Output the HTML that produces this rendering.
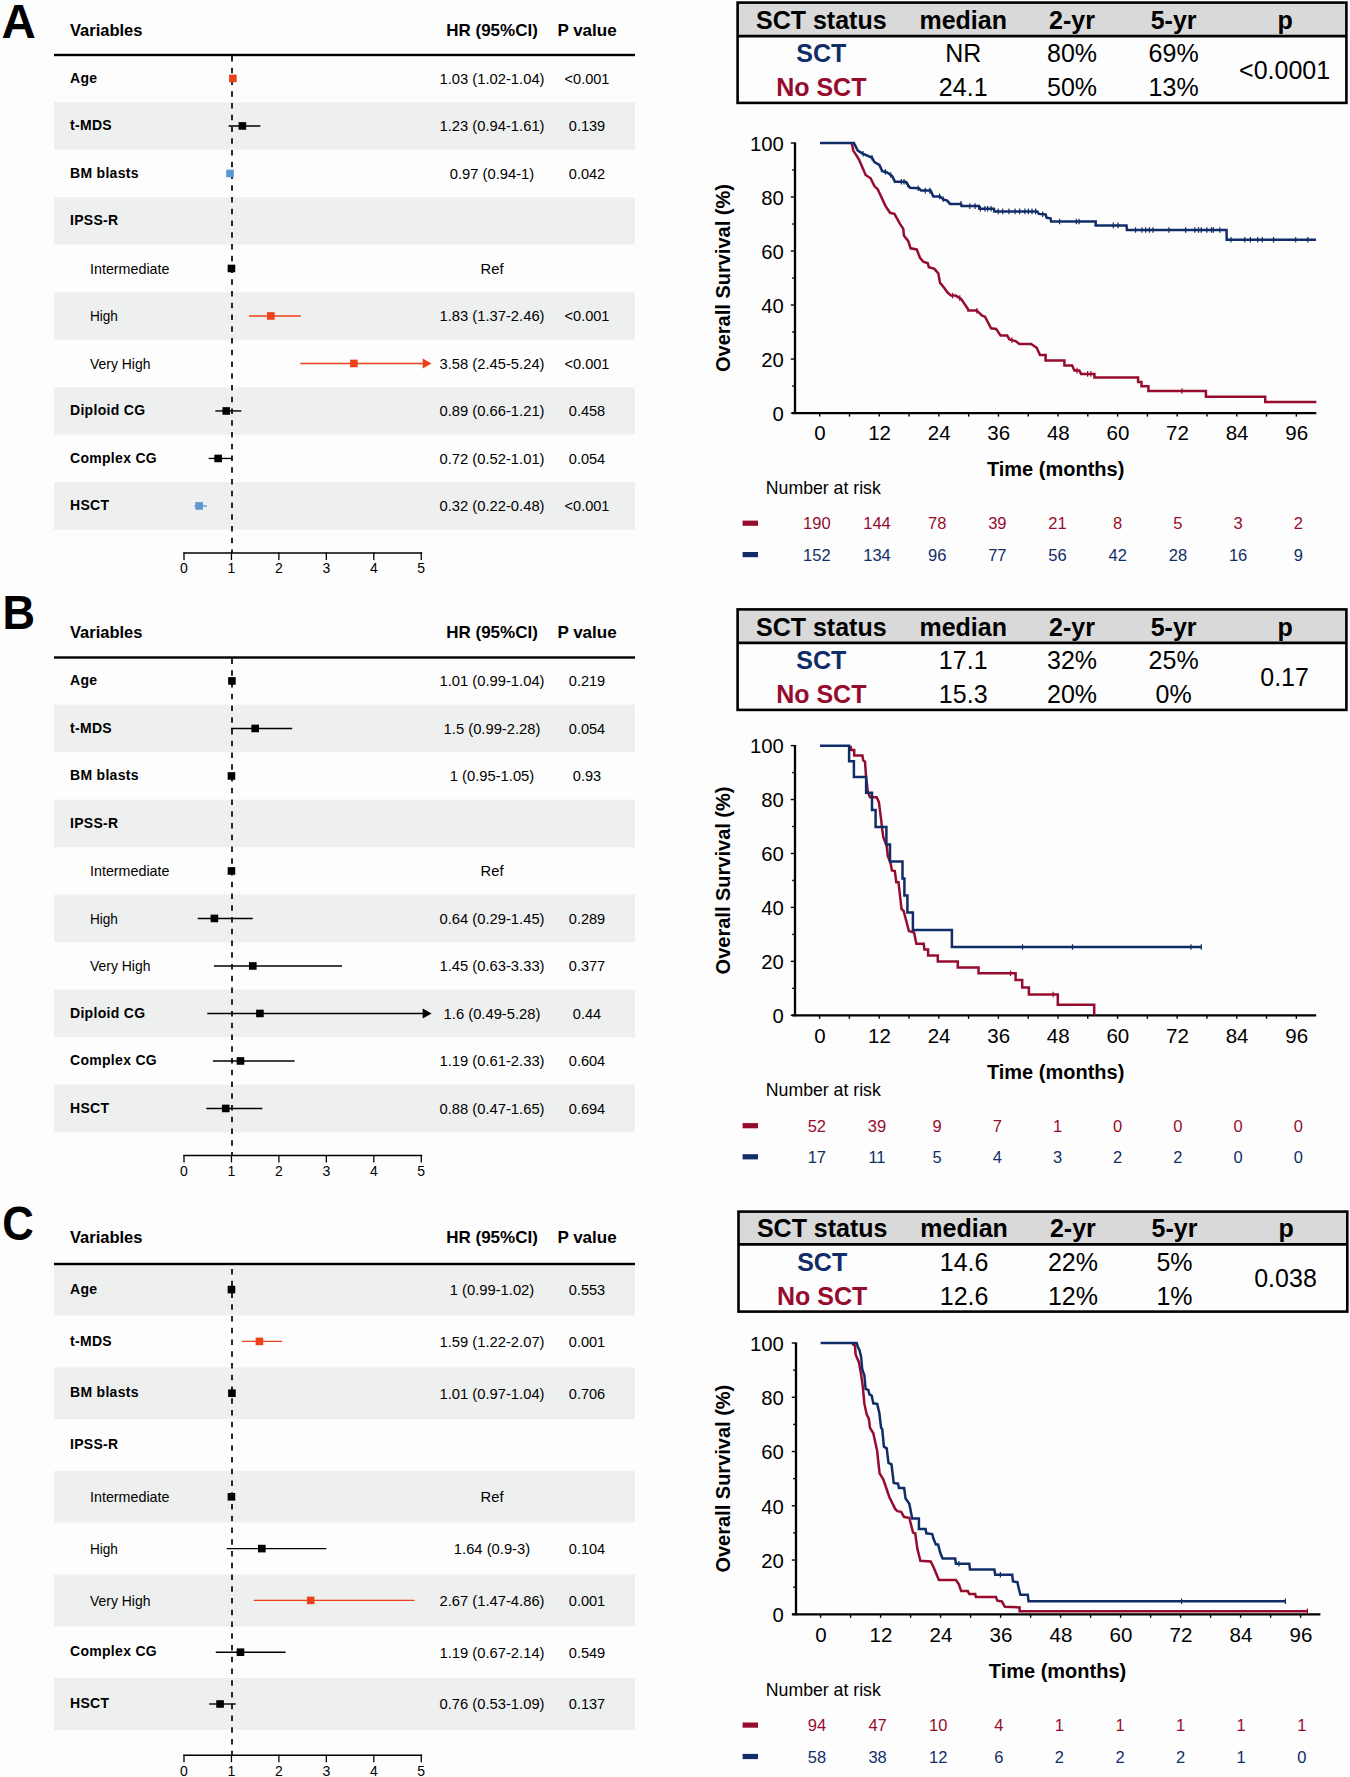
<!DOCTYPE html>
<html><head><meta charset="utf-8"><style>
html,body{margin:0;padding:0;background:#fdfdfd;}
svg{display:block;font-family:"Liberation Sans", sans-serif;}
</style></head><body>
<svg width="1350" height="1777" viewBox="0 0 1350 1777">
<rect width="1350" height="1777" fill="#fdfdfd"/>
<text transform="translate(1.50,38.30)" font-size="47.5" font-weight="bold" text-anchor="start" fill="#000">A</text>
<text transform="translate(2.60,629.30) scale(0.950,1)" font-size="47.5" font-weight="bold" text-anchor="start" fill="#000">B</text>
<text transform="translate(2.20,1239.80) scale(0.920,1)" font-size="47.5" font-weight="bold" text-anchor="start" fill="#000">C</text>
<text transform="translate(70.00,35.70)" font-size="16.5" font-weight="bold" text-anchor="start" fill="#000">Variables</text>
<text transform="translate(492.00,35.70)" font-size="17" font-weight="bold" text-anchor="middle" fill="#000">HR (95%CI)</text>
<text transform="translate(587.00,35.70)" font-size="17" font-weight="bold" text-anchor="middle" fill="#000">P value</text>
<rect x="54.00" y="102.20" width="581.00" height="47.50" fill="#eeefef"/>
<rect x="54.00" y="197.20" width="581.00" height="47.50" fill="#eeefef"/>
<rect x="54.00" y="292.20" width="581.00" height="47.50" fill="#eeefef"/>
<rect x="54.00" y="387.20" width="581.00" height="47.50" fill="#eeefef"/>
<rect x="54.00" y="482.20" width="581.00" height="47.50" fill="#eeefef"/>
<rect x="54.00" y="53.80" width="581.00" height="2.40" fill="#000"/>
<line x1="232.00" y1="56.00" x2="232.00" y2="553.00" stroke="#111" stroke-width="1.8" stroke-dasharray="5.6 6.15"/>
<text transform="translate(70.00,82.65)" font-size="14" font-weight="bold" text-anchor="start" fill="#000" letter-spacing="0.3">Age</text>
<text transform="translate(492.00,83.75) scale(1.055,1)" font-size="14" text-anchor="middle" fill="#000">1.03 (1.02-1.04)</text>
<text transform="translate(587.00,83.75) scale(1.040,1)" font-size="14" text-anchor="middle" fill="#000">&lt;0.001</text>
<line x1="232.40" y1="78.45" x2="233.35" y2="78.45" stroke="#ec4219" stroke-width="1.4" />
<rect x="229.07" y="74.65" width="7.60" height="7.60" fill="#ec4219"/>
<text transform="translate(70.00,130.15)" font-size="14" font-weight="bold" text-anchor="start" fill="#000" letter-spacing="0.3">t-MDS</text>
<text transform="translate(492.00,131.25) scale(1.055,1)" font-size="14" text-anchor="middle" fill="#000">1.23 (0.94-1.61)</text>
<text transform="translate(587.00,131.25) scale(1.040,1)" font-size="14" text-anchor="middle" fill="#000">0.139</text>
<line x1="228.60" y1="125.95" x2="260.39" y2="125.95" stroke="#000" stroke-width="1.4" />
<rect x="238.56" y="122.15" width="7.60" height="7.60" fill="#000"/>
<text transform="translate(70.00,177.65)" font-size="14" font-weight="bold" text-anchor="start" fill="#000" letter-spacing="0.3">BM blasts</text>
<text transform="translate(492.00,178.75) scale(1.055,1)" font-size="14" text-anchor="middle" fill="#000">0.97 (0.94-1)</text>
<text transform="translate(587.00,178.75) scale(1.040,1)" font-size="14" text-anchor="middle" fill="#000">0.042</text>
<line x1="228.60" y1="173.45" x2="231.45" y2="173.45" stroke="#5b98d3" stroke-width="1.4" />
<rect x="226.23" y="169.65" width="7.60" height="7.60" fill="#5b98d3"/>
<text transform="translate(70.00,225.15)" font-size="14" font-weight="bold" text-anchor="start" fill="#000" letter-spacing="0.3">IPSS-R</text>
<text transform="translate(90.00,273.85)" font-size="14.3" text-anchor="start" fill="#000">Intermediate</text>
<text transform="translate(492.00,273.75) scale(1.055,1)" font-size="14" text-anchor="middle" fill="#000">Ref</text>
<rect x="227.65" y="264.65" width="7.60" height="7.60" fill="#000"/>
<text transform="translate(90.00,321.35) scale(0.950,1)" font-size="14.3" text-anchor="start" fill="#000">High</text>
<text transform="translate(492.00,321.25) scale(1.055,1)" font-size="14" text-anchor="middle" fill="#000">1.83 (1.37-2.46)</text>
<text transform="translate(587.00,321.25) scale(1.040,1)" font-size="14" text-anchor="middle" fill="#000">&lt;0.001</text>
<line x1="249.01" y1="315.95" x2="300.73" y2="315.95" stroke="#ec4219" stroke-width="1.4" />
<rect x="267.03" y="312.15" width="7.60" height="7.60" fill="#ec4219"/>
<text transform="translate(90.00,368.85) scale(0.975,1)" font-size="14.3" text-anchor="start" fill="#000">Very High</text>
<text transform="translate(492.00,368.75) scale(1.055,1)" font-size="14" text-anchor="middle" fill="#000">3.58 (2.45-5.24)</text>
<text transform="translate(587.00,368.75) scale(1.040,1)" font-size="14" text-anchor="middle" fill="#000">&lt;0.001</text>
<line x1="300.25" y1="363.45" x2="423.00" y2="363.45" stroke="#ec4219" stroke-width="1.4" />
<polygon points="422.7,358.4 431.6,363.4 422.7,368.4" fill="#ec4219"/>
<rect x="350.07" y="359.65" width="7.60" height="7.60" fill="#ec4219"/>
<text transform="translate(70.00,415.15)" font-size="14" font-weight="bold" text-anchor="start" fill="#000" letter-spacing="0.3">Diploid CG</text>
<text transform="translate(492.00,416.25) scale(1.055,1)" font-size="14" text-anchor="middle" fill="#000">0.89 (0.66-1.21)</text>
<text transform="translate(587.00,416.25) scale(1.040,1)" font-size="14" text-anchor="middle" fill="#000">0.458</text>
<line x1="215.32" y1="410.95" x2="241.41" y2="410.95" stroke="#000" stroke-width="1.4" />
<rect x="222.43" y="407.15" width="7.60" height="7.60" fill="#000"/>
<text transform="translate(70.00,462.65)" font-size="14" font-weight="bold" text-anchor="start" fill="#000" letter-spacing="0.3">Complex CG</text>
<text transform="translate(492.00,463.75) scale(1.055,1)" font-size="14" text-anchor="middle" fill="#000">0.72 (0.52-1.01)</text>
<text transform="translate(587.00,463.75) scale(1.040,1)" font-size="14" text-anchor="middle" fill="#000">0.054</text>
<line x1="208.67" y1="458.45" x2="231.92" y2="458.45" stroke="#000" stroke-width="1.4" />
<rect x="214.36" y="454.65" width="7.60" height="7.60" fill="#000"/>
<text transform="translate(70.00,510.15)" font-size="14" font-weight="bold" text-anchor="start" fill="#000" letter-spacing="0.3">HSCT</text>
<text transform="translate(492.00,511.25) scale(1.055,1)" font-size="14" text-anchor="middle" fill="#000">0.32 (0.22-0.48)</text>
<text transform="translate(587.00,511.25) scale(1.040,1)" font-size="14" text-anchor="middle" fill="#000">&lt;0.001</text>
<line x1="194.44" y1="505.95" x2="206.78" y2="505.95" stroke="#5b98d3" stroke-width="1.4" />
<rect x="195.38" y="502.15" width="7.60" height="7.60" fill="#5b98d3"/>
<line x1="183.30" y1="553.00" x2="422.20" y2="553.00" stroke="#000" stroke-width="1.5" />
<line x1="184.00" y1="552.50" x2="184.00" y2="560.00" stroke="#000" stroke-width="1.3" />
<text transform="translate(184.00,573.40)" font-size="14" text-anchor="middle" fill="#000">0</text>
<line x1="231.45" y1="552.50" x2="231.45" y2="560.00" stroke="#000" stroke-width="1.3" />
<text transform="translate(231.45,573.40)" font-size="14" text-anchor="middle" fill="#000">1</text>
<line x1="278.90" y1="552.50" x2="278.90" y2="560.00" stroke="#000" stroke-width="1.3" />
<text transform="translate(278.90,573.40)" font-size="14" text-anchor="middle" fill="#000">2</text>
<line x1="326.35" y1="552.50" x2="326.35" y2="560.00" stroke="#000" stroke-width="1.3" />
<text transform="translate(326.35,573.40)" font-size="14" text-anchor="middle" fill="#000">3</text>
<line x1="373.80" y1="552.50" x2="373.80" y2="560.00" stroke="#000" stroke-width="1.3" />
<text transform="translate(373.80,573.40)" font-size="14" text-anchor="middle" fill="#000">4</text>
<line x1="421.25" y1="552.50" x2="421.25" y2="560.00" stroke="#000" stroke-width="1.3" />
<text transform="translate(421.25,573.40)" font-size="14" text-anchor="middle" fill="#000">5</text>
<text transform="translate(70.00,638.20)" font-size="16.5" font-weight="bold" text-anchor="start" fill="#000">Variables</text>
<text transform="translate(492.00,638.20)" font-size="17" font-weight="bold" text-anchor="middle" fill="#000">HR (95%CI)</text>
<text transform="translate(587.00,638.20)" font-size="17" font-weight="bold" text-anchor="middle" fill="#000">P value</text>
<rect x="54.00" y="704.70" width="581.00" height="47.50" fill="#eeefef"/>
<rect x="54.00" y="799.70" width="581.00" height="47.50" fill="#eeefef"/>
<rect x="54.00" y="894.70" width="581.00" height="47.50" fill="#eeefef"/>
<rect x="54.00" y="989.70" width="581.00" height="47.50" fill="#eeefef"/>
<rect x="54.00" y="1084.70" width="581.00" height="47.50" fill="#eeefef"/>
<rect x="54.00" y="656.30" width="581.00" height="2.40" fill="#000"/>
<line x1="232.00" y1="658.50" x2="232.00" y2="1155.50" stroke="#111" stroke-width="1.8" stroke-dasharray="5.6 6.15"/>
<text transform="translate(70.00,685.15)" font-size="14" font-weight="bold" text-anchor="start" fill="#000" letter-spacing="0.3">Age</text>
<text transform="translate(492.00,686.25) scale(1.055,1)" font-size="14" text-anchor="middle" fill="#000">1.01 (0.99-1.04)</text>
<text transform="translate(587.00,686.25) scale(1.040,1)" font-size="14" text-anchor="middle" fill="#000">0.219</text>
<line x1="230.98" y1="680.95" x2="233.35" y2="680.95" stroke="#000" stroke-width="1.4" />
<rect x="228.12" y="677.15" width="7.60" height="7.60" fill="#000"/>
<text transform="translate(70.00,732.65)" font-size="14" font-weight="bold" text-anchor="start" fill="#000" letter-spacing="0.3">t-MDS</text>
<text transform="translate(492.00,733.75) scale(1.055,1)" font-size="14" text-anchor="middle" fill="#000">1.5 (0.99-2.28)</text>
<text transform="translate(587.00,733.75) scale(1.040,1)" font-size="14" text-anchor="middle" fill="#000">0.054</text>
<line x1="230.98" y1="728.45" x2="292.19" y2="728.45" stroke="#000" stroke-width="1.4" />
<rect x="251.38" y="724.65" width="7.60" height="7.60" fill="#000"/>
<text transform="translate(70.00,780.15)" font-size="14" font-weight="bold" text-anchor="start" fill="#000" letter-spacing="0.3">BM blasts</text>
<text transform="translate(492.00,781.25) scale(1.055,1)" font-size="14" text-anchor="middle" fill="#000">1 (0.95-1.05)</text>
<text transform="translate(587.00,781.25) scale(1.040,1)" font-size="14" text-anchor="middle" fill="#000">0.93</text>
<line x1="229.08" y1="775.95" x2="233.82" y2="775.95" stroke="#000" stroke-width="1.4" />
<rect x="227.65" y="772.15" width="7.60" height="7.60" fill="#000"/>
<text transform="translate(70.00,827.65)" font-size="14" font-weight="bold" text-anchor="start" fill="#000" letter-spacing="0.3">IPSS-R</text>
<text transform="translate(90.00,876.35)" font-size="14.3" text-anchor="start" fill="#000">Intermediate</text>
<text transform="translate(492.00,876.25) scale(1.055,1)" font-size="14" text-anchor="middle" fill="#000">Ref</text>
<rect x="227.65" y="867.15" width="7.60" height="7.60" fill="#000"/>
<text transform="translate(90.00,923.85) scale(0.950,1)" font-size="14.3" text-anchor="start" fill="#000">High</text>
<text transform="translate(492.00,923.75) scale(1.055,1)" font-size="14" text-anchor="middle" fill="#000">0.64 (0.29-1.45)</text>
<text transform="translate(587.00,923.75) scale(1.040,1)" font-size="14" text-anchor="middle" fill="#000">0.289</text>
<line x1="197.76" y1="918.45" x2="252.80" y2="918.45" stroke="#000" stroke-width="1.4" />
<rect x="210.57" y="914.65" width="7.60" height="7.60" fill="#000"/>
<text transform="translate(90.00,971.35) scale(0.975,1)" font-size="14.3" text-anchor="start" fill="#000">Very High</text>
<text transform="translate(492.00,971.25) scale(1.055,1)" font-size="14" text-anchor="middle" fill="#000">1.45 (0.63-3.33)</text>
<text transform="translate(587.00,971.25) scale(1.040,1)" font-size="14" text-anchor="middle" fill="#000">0.377</text>
<line x1="213.89" y1="965.95" x2="342.01" y2="965.95" stroke="#000" stroke-width="1.4" />
<rect x="249.00" y="962.15" width="7.60" height="7.60" fill="#000"/>
<text transform="translate(70.00,1017.65)" font-size="14" font-weight="bold" text-anchor="start" fill="#000" letter-spacing="0.3">Diploid CG</text>
<text transform="translate(492.00,1018.75) scale(1.055,1)" font-size="14" text-anchor="middle" fill="#000">1.6 (0.49-5.28)</text>
<text transform="translate(587.00,1018.75) scale(1.040,1)" font-size="14" text-anchor="middle" fill="#000">0.44</text>
<line x1="207.25" y1="1013.45" x2="423.00" y2="1013.45" stroke="#000" stroke-width="1.4" />
<polygon points="422.7,1008.5 431.6,1013.5 422.7,1018.5" fill="#000"/>
<rect x="256.12" y="1009.65" width="7.60" height="7.60" fill="#000"/>
<text transform="translate(70.00,1065.15)" font-size="14" font-weight="bold" text-anchor="start" fill="#000" letter-spacing="0.3">Complex CG</text>
<text transform="translate(492.00,1066.25) scale(1.055,1)" font-size="14" text-anchor="middle" fill="#000">1.19 (0.61-2.33)</text>
<text transform="translate(587.00,1066.25) scale(1.040,1)" font-size="14" text-anchor="middle" fill="#000">0.604</text>
<line x1="212.94" y1="1060.95" x2="294.56" y2="1060.95" stroke="#000" stroke-width="1.4" />
<rect x="236.67" y="1057.15" width="7.60" height="7.60" fill="#000"/>
<text transform="translate(70.00,1112.65)" font-size="14" font-weight="bold" text-anchor="start" fill="#000" letter-spacing="0.3">HSCT</text>
<text transform="translate(492.00,1113.75) scale(1.055,1)" font-size="14" text-anchor="middle" fill="#000">0.88 (0.47-1.65)</text>
<text transform="translate(587.00,1113.75) scale(1.040,1)" font-size="14" text-anchor="middle" fill="#000">0.694</text>
<line x1="206.30" y1="1108.45" x2="262.29" y2="1108.45" stroke="#000" stroke-width="1.4" />
<rect x="221.96" y="1104.65" width="7.60" height="7.60" fill="#000"/>
<line x1="183.30" y1="1155.50" x2="422.20" y2="1155.50" stroke="#000" stroke-width="1.5" />
<line x1="184.00" y1="1155.00" x2="184.00" y2="1162.50" stroke="#000" stroke-width="1.3" />
<text transform="translate(184.00,1175.90)" font-size="14" text-anchor="middle" fill="#000">0</text>
<line x1="231.45" y1="1155.00" x2="231.45" y2="1162.50" stroke="#000" stroke-width="1.3" />
<text transform="translate(231.45,1175.90)" font-size="14" text-anchor="middle" fill="#000">1</text>
<line x1="278.90" y1="1155.00" x2="278.90" y2="1162.50" stroke="#000" stroke-width="1.3" />
<text transform="translate(278.90,1175.90)" font-size="14" text-anchor="middle" fill="#000">2</text>
<line x1="326.35" y1="1155.00" x2="326.35" y2="1162.50" stroke="#000" stroke-width="1.3" />
<text transform="translate(326.35,1175.90)" font-size="14" text-anchor="middle" fill="#000">3</text>
<line x1="373.80" y1="1155.00" x2="373.80" y2="1162.50" stroke="#000" stroke-width="1.3" />
<text transform="translate(373.80,1175.90)" font-size="14" text-anchor="middle" fill="#000">4</text>
<line x1="421.25" y1="1155.00" x2="421.25" y2="1162.50" stroke="#000" stroke-width="1.3" />
<text transform="translate(421.25,1175.90)" font-size="14" text-anchor="middle" fill="#000">5</text>
<text transform="translate(70.00,1242.70)" font-size="16.5" font-weight="bold" text-anchor="start" fill="#000">Variables</text>
<text transform="translate(492.00,1242.70)" font-size="17" font-weight="bold" text-anchor="middle" fill="#000">HR (95%CI)</text>
<text transform="translate(587.00,1242.70)" font-size="17" font-weight="bold" text-anchor="middle" fill="#000">P value</text>
<rect x="54.00" y="1263.70" width="581.00" height="51.80" fill="#eeefef"/>
<rect x="54.00" y="1367.30" width="581.00" height="51.80" fill="#eeefef"/>
<rect x="54.00" y="1470.90" width="581.00" height="51.80" fill="#eeefef"/>
<rect x="54.00" y="1574.50" width="581.00" height="51.80" fill="#eeefef"/>
<rect x="54.00" y="1678.10" width="581.00" height="51.80" fill="#eeefef"/>
<rect x="54.00" y="1262.80" width="581.00" height="2.40" fill="#000"/>
<line x1="232.00" y1="1269.00" x2="232.00" y2="1755.30" stroke="#111" stroke-width="1.8" stroke-dasharray="5.6 6.15"/>
<text transform="translate(70.00,1293.80)" font-size="14" font-weight="bold" text-anchor="start" fill="#000" letter-spacing="0.3">Age</text>
<text transform="translate(492.00,1294.90) scale(1.055,1)" font-size="14" text-anchor="middle" fill="#000">1 (0.99-1.02)</text>
<text transform="translate(587.00,1294.90) scale(1.040,1)" font-size="14" text-anchor="middle" fill="#000">0.553</text>
<line x1="230.98" y1="1289.60" x2="232.40" y2="1289.60" stroke="#000" stroke-width="1.4" />
<rect x="227.65" y="1285.80" width="7.60" height="7.60" fill="#000"/>
<text transform="translate(70.00,1345.60)" font-size="14" font-weight="bold" text-anchor="start" fill="#000" letter-spacing="0.3">t-MDS</text>
<text transform="translate(492.00,1346.70) scale(1.055,1)" font-size="14" text-anchor="middle" fill="#000">1.59 (1.22-2.07)</text>
<text transform="translate(587.00,1346.70) scale(1.040,1)" font-size="14" text-anchor="middle" fill="#000">0.001</text>
<line x1="241.89" y1="1341.40" x2="282.22" y2="1341.40" stroke="#ec4219" stroke-width="1.4" />
<rect x="255.65" y="1337.60" width="7.60" height="7.60" fill="#ec4219"/>
<text transform="translate(70.00,1397.40)" font-size="14" font-weight="bold" text-anchor="start" fill="#000" letter-spacing="0.3">BM blasts</text>
<text transform="translate(492.00,1398.50) scale(1.055,1)" font-size="14" text-anchor="middle" fill="#000">1.01 (0.97-1.04)</text>
<text transform="translate(587.00,1398.50) scale(1.040,1)" font-size="14" text-anchor="middle" fill="#000">0.706</text>
<line x1="230.03" y1="1393.20" x2="233.35" y2="1393.20" stroke="#000" stroke-width="1.4" />
<rect x="228.12" y="1389.40" width="7.60" height="7.60" fill="#000"/>
<text transform="translate(70.00,1449.20)" font-size="14" font-weight="bold" text-anchor="start" fill="#000" letter-spacing="0.3">IPSS-R</text>
<text transform="translate(90.00,1502.20)" font-size="14.3" text-anchor="start" fill="#000">Intermediate</text>
<text transform="translate(492.00,1502.10) scale(1.055,1)" font-size="14" text-anchor="middle" fill="#000">Ref</text>
<rect x="227.65" y="1493.00" width="7.60" height="7.60" fill="#000"/>
<text transform="translate(90.00,1554.00) scale(0.950,1)" font-size="14.3" text-anchor="start" fill="#000">High</text>
<text transform="translate(492.00,1553.90) scale(1.055,1)" font-size="14" text-anchor="middle" fill="#000">1.64 (0.9-3)</text>
<text transform="translate(587.00,1553.90) scale(1.040,1)" font-size="14" text-anchor="middle" fill="#000">0.104</text>
<line x1="226.71" y1="1548.60" x2="326.35" y2="1548.60" stroke="#000" stroke-width="1.4" />
<rect x="258.02" y="1544.80" width="7.60" height="7.60" fill="#000"/>
<text transform="translate(90.00,1605.80) scale(0.975,1)" font-size="14.3" text-anchor="start" fill="#000">Very High</text>
<text transform="translate(492.00,1605.70) scale(1.055,1)" font-size="14" text-anchor="middle" fill="#000">2.67 (1.47-4.86)</text>
<text transform="translate(587.00,1605.70) scale(1.040,1)" font-size="14" text-anchor="middle" fill="#000">0.001</text>
<line x1="253.75" y1="1600.40" x2="414.61" y2="1600.40" stroke="#ec4219" stroke-width="1.4" />
<rect x="306.89" y="1596.60" width="7.60" height="7.60" fill="#ec4219"/>
<text transform="translate(70.00,1656.40)" font-size="14" font-weight="bold" text-anchor="start" fill="#000" letter-spacing="0.3">Complex CG</text>
<text transform="translate(492.00,1657.50) scale(1.055,1)" font-size="14" text-anchor="middle" fill="#000">1.19 (0.67-2.14)</text>
<text transform="translate(587.00,1657.50) scale(1.040,1)" font-size="14" text-anchor="middle" fill="#000">0.549</text>
<line x1="215.79" y1="1652.20" x2="285.54" y2="1652.20" stroke="#000" stroke-width="1.4" />
<rect x="236.67" y="1648.40" width="7.60" height="7.60" fill="#000"/>
<text transform="translate(70.00,1708.20)" font-size="14" font-weight="bold" text-anchor="start" fill="#000" letter-spacing="0.3">HSCT</text>
<text transform="translate(492.00,1709.30) scale(1.055,1)" font-size="14" text-anchor="middle" fill="#000">0.76 (0.53-1.09)</text>
<text transform="translate(587.00,1709.30) scale(1.040,1)" font-size="14" text-anchor="middle" fill="#000">0.137</text>
<line x1="209.15" y1="1704.00" x2="235.72" y2="1704.00" stroke="#000" stroke-width="1.4" />
<rect x="216.26" y="1700.20" width="7.60" height="7.60" fill="#000"/>
<line x1="183.30" y1="1755.30" x2="422.20" y2="1755.30" stroke="#000" stroke-width="1.5" />
<line x1="184.00" y1="1754.80" x2="184.00" y2="1762.30" stroke="#000" stroke-width="1.3" />
<text transform="translate(184.00,1775.70)" font-size="14" text-anchor="middle" fill="#000">0</text>
<line x1="231.45" y1="1754.80" x2="231.45" y2="1762.30" stroke="#000" stroke-width="1.3" />
<text transform="translate(231.45,1775.70)" font-size="14" text-anchor="middle" fill="#000">1</text>
<line x1="278.90" y1="1754.80" x2="278.90" y2="1762.30" stroke="#000" stroke-width="1.3" />
<text transform="translate(278.90,1775.70)" font-size="14" text-anchor="middle" fill="#000">2</text>
<line x1="326.35" y1="1754.80" x2="326.35" y2="1762.30" stroke="#000" stroke-width="1.3" />
<text transform="translate(326.35,1775.70)" font-size="14" text-anchor="middle" fill="#000">3</text>
<line x1="373.80" y1="1754.80" x2="373.80" y2="1762.30" stroke="#000" stroke-width="1.3" />
<text transform="translate(373.80,1775.70)" font-size="14" text-anchor="middle" fill="#000">4</text>
<line x1="421.25" y1="1754.80" x2="421.25" y2="1762.30" stroke="#000" stroke-width="1.3" />
<text transform="translate(421.25,1775.70)" font-size="14" text-anchor="middle" fill="#000">5</text>
<rect x="737.60" y="2.60" width="608.80" height="33.50" fill="#d9d9d9"/>
<rect x="737.6" y="2.6" width="608.8" height="100.3" fill="none" stroke="#000" stroke-width="2.6"/>
<line x1="737.60" y1="36.10" x2="1346.40" y2="36.10" stroke="#000" stroke-width="2.6" />
<text transform="translate(821.30,28.90)" font-size="25" font-weight="bold" text-anchor="middle" fill="#000">SCT status</text>
<text transform="translate(963.20,28.90)" font-size="25" font-weight="bold" text-anchor="middle" fill="#000">median</text>
<text transform="translate(1072.00,28.90)" font-size="25" font-weight="bold" text-anchor="middle" fill="#000">2-yr</text>
<text transform="translate(1173.60,28.90)" font-size="25" font-weight="bold" text-anchor="middle" fill="#000">5-yr</text>
<text transform="translate(1285.20,28.90)" font-size="25" font-weight="bold" text-anchor="middle" fill="#000">p</text>
<text transform="translate(821.30,62.20)" font-size="25" font-weight="bold" text-anchor="middle" fill="#112d68">SCT</text>
<text transform="translate(821.30,95.90)" font-size="25" font-weight="bold" text-anchor="middle" fill="#960c2e">No SCT</text>
<text transform="translate(963.20,62.20)" font-size="25" text-anchor="middle" fill="#000">NR</text>
<text transform="translate(963.20,95.90)" font-size="25" text-anchor="middle" fill="#000">24.1</text>
<text transform="translate(1072.00,62.20)" font-size="25" text-anchor="middle" fill="#000">80%</text>
<text transform="translate(1072.00,95.90)" font-size="25" text-anchor="middle" fill="#000">50%</text>
<text transform="translate(1173.60,62.20)" font-size="25" text-anchor="middle" fill="#000">69%</text>
<text transform="translate(1173.60,95.90)" font-size="25" text-anchor="middle" fill="#000">13%</text>
<text transform="translate(1284.60,78.75)" font-size="25" text-anchor="middle" fill="#000">&lt;0.0001</text>
<rect x="737.60" y="609.40" width="608.80" height="33.50" fill="#d9d9d9"/>
<rect x="737.6" y="609.4" width="608.8" height="100.5" fill="none" stroke="#000" stroke-width="2.6"/>
<line x1="737.60" y1="642.90" x2="1346.40" y2="642.90" stroke="#000" stroke-width="2.6" />
<text transform="translate(821.30,635.70)" font-size="25" font-weight="bold" text-anchor="middle" fill="#000">SCT status</text>
<text transform="translate(963.20,635.70)" font-size="25" font-weight="bold" text-anchor="middle" fill="#000">median</text>
<text transform="translate(1072.00,635.70)" font-size="25" font-weight="bold" text-anchor="middle" fill="#000">2-yr</text>
<text transform="translate(1173.60,635.70)" font-size="25" font-weight="bold" text-anchor="middle" fill="#000">5-yr</text>
<text transform="translate(1285.20,635.70)" font-size="25" font-weight="bold" text-anchor="middle" fill="#000">p</text>
<text transform="translate(821.30,669.00)" font-size="25" font-weight="bold" text-anchor="middle" fill="#112d68">SCT</text>
<text transform="translate(821.30,702.70)" font-size="25" font-weight="bold" text-anchor="middle" fill="#960c2e">No SCT</text>
<text transform="translate(963.20,669.00)" font-size="25" text-anchor="middle" fill="#000">17.1</text>
<text transform="translate(963.20,702.70)" font-size="25" text-anchor="middle" fill="#000">15.3</text>
<text transform="translate(1072.00,669.00)" font-size="25" text-anchor="middle" fill="#000">32%</text>
<text transform="translate(1072.00,702.70)" font-size="25" text-anchor="middle" fill="#000">20%</text>
<text transform="translate(1173.60,669.00)" font-size="25" text-anchor="middle" fill="#000">25%</text>
<text transform="translate(1173.60,702.70)" font-size="25" text-anchor="middle" fill="#000">0%</text>
<text transform="translate(1284.60,685.55)" font-size="25" text-anchor="middle" fill="#000">0.17</text>
<rect x="738.50" y="1211.60" width="608.80" height="32.80" fill="#d9d9d9"/>
<rect x="738.5" y="1211.6" width="608.8" height="100.0" fill="none" stroke="#000" stroke-width="2.6"/>
<line x1="738.50" y1="1244.40" x2="1347.30" y2="1244.40" stroke="#000" stroke-width="2.6" />
<text transform="translate(822.20,1237.20)" font-size="25" font-weight="bold" text-anchor="middle" fill="#000">SCT status</text>
<text transform="translate(964.10,1237.20)" font-size="25" font-weight="bold" text-anchor="middle" fill="#000">median</text>
<text transform="translate(1072.90,1237.20)" font-size="25" font-weight="bold" text-anchor="middle" fill="#000">2-yr</text>
<text transform="translate(1174.50,1237.20)" font-size="25" font-weight="bold" text-anchor="middle" fill="#000">5-yr</text>
<text transform="translate(1286.10,1237.20)" font-size="25" font-weight="bold" text-anchor="middle" fill="#000">p</text>
<text transform="translate(822.20,1270.90)" font-size="25" font-weight="bold" text-anchor="middle" fill="#112d68">SCT</text>
<text transform="translate(822.20,1304.50)" font-size="25" font-weight="bold" text-anchor="middle" fill="#960c2e">No SCT</text>
<text transform="translate(964.10,1270.90)" font-size="25" text-anchor="middle" fill="#000">14.6</text>
<text transform="translate(964.10,1304.50)" font-size="25" text-anchor="middle" fill="#000">12.6</text>
<text transform="translate(1072.90,1270.90)" font-size="25" text-anchor="middle" fill="#000">22%</text>
<text transform="translate(1072.90,1304.50)" font-size="25" text-anchor="middle" fill="#000">12%</text>
<text transform="translate(1174.50,1270.90)" font-size="25" text-anchor="middle" fill="#000">5%</text>
<text transform="translate(1174.50,1304.50)" font-size="25" text-anchor="middle" fill="#000">1%</text>
<text transform="translate(1285.50,1287.40)" font-size="25" text-anchor="middle" fill="#000">0.038</text>
<line x1="795.00" y1="142.50" x2="795.00" y2="414.10" stroke="#000" stroke-width="2.3" />
<line x1="790.80" y1="413.10" x2="795.00" y2="413.10" stroke="#000" stroke-width="1.4" />
<text transform="translate(783.90,420.90)" font-size="20.3" text-anchor="end" fill="#000">0</text>
<line x1="792.20" y1="386.09" x2="795.00" y2="386.09" stroke="#000" stroke-width="1.4" />
<line x1="790.80" y1="359.08" x2="795.00" y2="359.08" stroke="#000" stroke-width="1.4" />
<text transform="translate(783.90,366.88)" font-size="20.3" text-anchor="end" fill="#000">20</text>
<line x1="792.20" y1="332.07" x2="795.00" y2="332.07" stroke="#000" stroke-width="1.4" />
<line x1="790.80" y1="305.06" x2="795.00" y2="305.06" stroke="#000" stroke-width="1.4" />
<text transform="translate(783.90,312.86)" font-size="20.3" text-anchor="end" fill="#000">40</text>
<line x1="792.20" y1="278.05" x2="795.00" y2="278.05" stroke="#000" stroke-width="1.4" />
<line x1="790.80" y1="251.04" x2="795.00" y2="251.04" stroke="#000" stroke-width="1.4" />
<text transform="translate(783.90,258.84)" font-size="20.3" text-anchor="end" fill="#000">60</text>
<line x1="792.20" y1="224.03" x2="795.00" y2="224.03" stroke="#000" stroke-width="1.4" />
<line x1="790.80" y1="197.02" x2="795.00" y2="197.02" stroke="#000" stroke-width="1.4" />
<text transform="translate(783.90,204.82)" font-size="20.3" text-anchor="end" fill="#000">80</text>
<line x1="792.20" y1="170.01" x2="795.00" y2="170.01" stroke="#000" stroke-width="1.4" />
<line x1="790.80" y1="143.00" x2="795.00" y2="143.00" stroke="#000" stroke-width="1.4" />
<text transform="translate(783.90,150.80)" font-size="20.3" text-anchor="end" fill="#000">100</text>
<line x1="792.00" y1="413.10" x2="1316.30" y2="413.10" stroke="#000" stroke-width="2.3" />
<line x1="819.70" y1="413.10" x2="819.70" y2="416.60" stroke="#000" stroke-width="1.4" />
<text transform="translate(820.00,440.30)" font-size="20.5" text-anchor="middle" fill="#000">0</text>
<line x1="849.49" y1="413.10" x2="849.49" y2="416.60" stroke="#000" stroke-width="1.4" />
<line x1="879.28" y1="413.10" x2="879.28" y2="416.60" stroke="#000" stroke-width="1.4" />
<text transform="translate(879.58,440.30)" font-size="20.5" text-anchor="middle" fill="#000">12</text>
<line x1="909.07" y1="413.10" x2="909.07" y2="416.60" stroke="#000" stroke-width="1.4" />
<line x1="938.86" y1="413.10" x2="938.86" y2="416.60" stroke="#000" stroke-width="1.4" />
<text transform="translate(939.16,440.30)" font-size="20.5" text-anchor="middle" fill="#000">24</text>
<line x1="968.65" y1="413.10" x2="968.65" y2="416.60" stroke="#000" stroke-width="1.4" />
<line x1="998.44" y1="413.10" x2="998.44" y2="416.60" stroke="#000" stroke-width="1.4" />
<text transform="translate(998.74,440.30)" font-size="20.5" text-anchor="middle" fill="#000">36</text>
<line x1="1028.23" y1="413.10" x2="1028.23" y2="416.60" stroke="#000" stroke-width="1.4" />
<line x1="1058.02" y1="413.10" x2="1058.02" y2="416.60" stroke="#000" stroke-width="1.4" />
<text transform="translate(1058.32,440.30)" font-size="20.5" text-anchor="middle" fill="#000">48</text>
<line x1="1087.81" y1="413.10" x2="1087.81" y2="416.60" stroke="#000" stroke-width="1.4" />
<line x1="1117.60" y1="413.10" x2="1117.60" y2="416.60" stroke="#000" stroke-width="1.4" />
<text transform="translate(1117.90,440.30)" font-size="20.5" text-anchor="middle" fill="#000">60</text>
<line x1="1147.39" y1="413.10" x2="1147.39" y2="416.60" stroke="#000" stroke-width="1.4" />
<line x1="1177.18" y1="413.10" x2="1177.18" y2="416.60" stroke="#000" stroke-width="1.4" />
<text transform="translate(1177.48,440.30)" font-size="20.5" text-anchor="middle" fill="#000">72</text>
<line x1="1206.97" y1="413.10" x2="1206.97" y2="416.60" stroke="#000" stroke-width="1.4" />
<line x1="1236.76" y1="413.10" x2="1236.76" y2="416.60" stroke="#000" stroke-width="1.4" />
<text transform="translate(1237.06,440.30)" font-size="20.5" text-anchor="middle" fill="#000">84</text>
<line x1="1266.55" y1="413.10" x2="1266.55" y2="416.60" stroke="#000" stroke-width="1.4" />
<line x1="1296.34" y1="413.10" x2="1296.34" y2="416.60" stroke="#000" stroke-width="1.4" />
<text transform="translate(1296.64,440.30)" font-size="20.5" text-anchor="middle" fill="#000">96</text>
<text transform="translate(1055.60,476.40)" font-size="20" font-weight="bold" text-anchor="middle" fill="#000">Time (months)</text>
<text transform="translate(729.80,278.05) rotate(-90)" font-size="20" font-weight="bold" text-anchor="middle" fill="#000">Overall Survival (%)</text>
<text transform="translate(765.80,494.20)" font-size="17.7" text-anchor="start" fill="#000">Number at risk</text>
<rect x="742.60" y="520.60" width="15.40" height="5.20" fill="#960c2e"/>
<rect x="742.60" y="552.00" width="15.40" height="5.20" fill="#112d68"/>
<text transform="translate(816.80,529.40)" font-size="16.5" text-anchor="middle" fill="#960c2e">190</text>
<text transform="translate(816.80,560.60)" font-size="16.5" text-anchor="middle" fill="#112d68">152</text>
<text transform="translate(876.98,529.40)" font-size="16.5" text-anchor="middle" fill="#960c2e">144</text>
<text transform="translate(876.98,560.60)" font-size="16.5" text-anchor="middle" fill="#112d68">134</text>
<text transform="translate(937.16,529.40)" font-size="16.5" text-anchor="middle" fill="#960c2e">78</text>
<text transform="translate(937.16,560.60)" font-size="16.5" text-anchor="middle" fill="#112d68">96</text>
<text transform="translate(997.34,529.40)" font-size="16.5" text-anchor="middle" fill="#960c2e">39</text>
<text transform="translate(997.34,560.60)" font-size="16.5" text-anchor="middle" fill="#112d68">77</text>
<text transform="translate(1057.52,529.40)" font-size="16.5" text-anchor="middle" fill="#960c2e">21</text>
<text transform="translate(1057.52,560.60)" font-size="16.5" text-anchor="middle" fill="#112d68">56</text>
<text transform="translate(1117.70,529.40)" font-size="16.5" text-anchor="middle" fill="#960c2e">8</text>
<text transform="translate(1117.70,560.60)" font-size="16.5" text-anchor="middle" fill="#112d68">42</text>
<text transform="translate(1177.88,529.40)" font-size="16.5" text-anchor="middle" fill="#960c2e">5</text>
<text transform="translate(1177.88,560.60)" font-size="16.5" text-anchor="middle" fill="#112d68">28</text>
<text transform="translate(1238.06,529.40)" font-size="16.5" text-anchor="middle" fill="#960c2e">3</text>
<text transform="translate(1238.06,560.60)" font-size="16.5" text-anchor="middle" fill="#112d68">16</text>
<text transform="translate(1298.24,529.40)" font-size="16.5" text-anchor="middle" fill="#960c2e">2</text>
<text transform="translate(1298.24,560.60)" font-size="16.5" text-anchor="middle" fill="#112d68">9</text>
<line x1="795.00" y1="745.10" x2="795.00" y2="1016.30" stroke="#000" stroke-width="2.3" />
<line x1="790.80" y1="1015.30" x2="795.00" y2="1015.30" stroke="#000" stroke-width="1.4" />
<text transform="translate(783.90,1023.10)" font-size="20.3" text-anchor="end" fill="#000">0</text>
<line x1="792.20" y1="988.33" x2="795.00" y2="988.33" stroke="#000" stroke-width="1.4" />
<line x1="790.80" y1="961.36" x2="795.00" y2="961.36" stroke="#000" stroke-width="1.4" />
<text transform="translate(783.90,969.16)" font-size="20.3" text-anchor="end" fill="#000">20</text>
<line x1="792.20" y1="934.39" x2="795.00" y2="934.39" stroke="#000" stroke-width="1.4" />
<line x1="790.80" y1="907.42" x2="795.00" y2="907.42" stroke="#000" stroke-width="1.4" />
<text transform="translate(783.90,915.22)" font-size="20.3" text-anchor="end" fill="#000">40</text>
<line x1="792.20" y1="880.45" x2="795.00" y2="880.45" stroke="#000" stroke-width="1.4" />
<line x1="790.80" y1="853.48" x2="795.00" y2="853.48" stroke="#000" stroke-width="1.4" />
<text transform="translate(783.90,861.28)" font-size="20.3" text-anchor="end" fill="#000">60</text>
<line x1="792.20" y1="826.51" x2="795.00" y2="826.51" stroke="#000" stroke-width="1.4" />
<line x1="790.80" y1="799.54" x2="795.00" y2="799.54" stroke="#000" stroke-width="1.4" />
<text transform="translate(783.90,807.34)" font-size="20.3" text-anchor="end" fill="#000">80</text>
<line x1="792.20" y1="772.57" x2="795.00" y2="772.57" stroke="#000" stroke-width="1.4" />
<line x1="790.80" y1="745.60" x2="795.00" y2="745.60" stroke="#000" stroke-width="1.4" />
<text transform="translate(783.90,753.40)" font-size="20.3" text-anchor="end" fill="#000">100</text>
<line x1="792.00" y1="1015.30" x2="1316.20" y2="1015.30" stroke="#000" stroke-width="2.3" />
<line x1="819.60" y1="1015.30" x2="819.60" y2="1018.80" stroke="#000" stroke-width="1.4" />
<text transform="translate(819.90,1042.50)" font-size="20.5" text-anchor="middle" fill="#000">0</text>
<line x1="849.40" y1="1015.30" x2="849.40" y2="1018.80" stroke="#000" stroke-width="1.4" />
<line x1="879.19" y1="1015.30" x2="879.19" y2="1018.80" stroke="#000" stroke-width="1.4" />
<text transform="translate(879.49,1042.50)" font-size="20.5" text-anchor="middle" fill="#000">12</text>
<line x1="908.99" y1="1015.30" x2="908.99" y2="1018.80" stroke="#000" stroke-width="1.4" />
<line x1="938.78" y1="1015.30" x2="938.78" y2="1018.80" stroke="#000" stroke-width="1.4" />
<text transform="translate(939.08,1042.50)" font-size="20.5" text-anchor="middle" fill="#000">24</text>
<line x1="968.58" y1="1015.30" x2="968.58" y2="1018.80" stroke="#000" stroke-width="1.4" />
<line x1="998.38" y1="1015.30" x2="998.38" y2="1018.80" stroke="#000" stroke-width="1.4" />
<text transform="translate(998.68,1042.50)" font-size="20.5" text-anchor="middle" fill="#000">36</text>
<line x1="1028.17" y1="1015.30" x2="1028.17" y2="1018.80" stroke="#000" stroke-width="1.4" />
<line x1="1057.97" y1="1015.30" x2="1057.97" y2="1018.80" stroke="#000" stroke-width="1.4" />
<text transform="translate(1058.27,1042.50)" font-size="20.5" text-anchor="middle" fill="#000">48</text>
<line x1="1087.76" y1="1015.30" x2="1087.76" y2="1018.80" stroke="#000" stroke-width="1.4" />
<line x1="1117.56" y1="1015.30" x2="1117.56" y2="1018.80" stroke="#000" stroke-width="1.4" />
<text transform="translate(1117.86,1042.50)" font-size="20.5" text-anchor="middle" fill="#000">60</text>
<line x1="1147.36" y1="1015.30" x2="1147.36" y2="1018.80" stroke="#000" stroke-width="1.4" />
<line x1="1177.15" y1="1015.30" x2="1177.15" y2="1018.80" stroke="#000" stroke-width="1.4" />
<text transform="translate(1177.45,1042.50)" font-size="20.5" text-anchor="middle" fill="#000">72</text>
<line x1="1206.95" y1="1015.30" x2="1206.95" y2="1018.80" stroke="#000" stroke-width="1.4" />
<line x1="1236.74" y1="1015.30" x2="1236.74" y2="1018.80" stroke="#000" stroke-width="1.4" />
<text transform="translate(1237.04,1042.50)" font-size="20.5" text-anchor="middle" fill="#000">84</text>
<line x1="1266.54" y1="1015.30" x2="1266.54" y2="1018.80" stroke="#000" stroke-width="1.4" />
<line x1="1296.34" y1="1015.30" x2="1296.34" y2="1018.80" stroke="#000" stroke-width="1.4" />
<text transform="translate(1296.64,1042.50)" font-size="20.5" text-anchor="middle" fill="#000">96</text>
<text transform="translate(1055.60,1078.60)" font-size="20" font-weight="bold" text-anchor="middle" fill="#000">Time (months)</text>
<text transform="translate(729.80,880.45) rotate(-90)" font-size="20" font-weight="bold" text-anchor="middle" fill="#000">Overall Survival (%)</text>
<text transform="translate(765.80,1096.40)" font-size="17.7" text-anchor="start" fill="#000">Number at risk</text>
<rect x="742.60" y="1123.10" width="15.40" height="5.20" fill="#960c2e"/>
<rect x="742.60" y="1154.20" width="15.40" height="5.20" fill="#112d68"/>
<text transform="translate(816.80,1131.90)" font-size="16.5" text-anchor="middle" fill="#960c2e">52</text>
<text transform="translate(816.80,1162.80)" font-size="16.5" text-anchor="middle" fill="#112d68">17</text>
<text transform="translate(876.98,1131.90)" font-size="16.5" text-anchor="middle" fill="#960c2e">39</text>
<text transform="translate(876.98,1162.80)" font-size="16.5" text-anchor="middle" fill="#112d68">11</text>
<text transform="translate(937.16,1131.90)" font-size="16.5" text-anchor="middle" fill="#960c2e">9</text>
<text transform="translate(937.16,1162.80)" font-size="16.5" text-anchor="middle" fill="#112d68">5</text>
<text transform="translate(997.34,1131.90)" font-size="16.5" text-anchor="middle" fill="#960c2e">7</text>
<text transform="translate(997.34,1162.80)" font-size="16.5" text-anchor="middle" fill="#112d68">4</text>
<text transform="translate(1057.52,1131.90)" font-size="16.5" text-anchor="middle" fill="#960c2e">1</text>
<text transform="translate(1057.52,1162.80)" font-size="16.5" text-anchor="middle" fill="#112d68">3</text>
<text transform="translate(1117.70,1131.90)" font-size="16.5" text-anchor="middle" fill="#960c2e">0</text>
<text transform="translate(1117.70,1162.80)" font-size="16.5" text-anchor="middle" fill="#112d68">2</text>
<text transform="translate(1177.88,1131.90)" font-size="16.5" text-anchor="middle" fill="#960c2e">0</text>
<text transform="translate(1177.88,1162.80)" font-size="16.5" text-anchor="middle" fill="#112d68">2</text>
<text transform="translate(1238.06,1131.90)" font-size="16.5" text-anchor="middle" fill="#960c2e">0</text>
<text transform="translate(1238.06,1162.80)" font-size="16.5" text-anchor="middle" fill="#112d68">0</text>
<text transform="translate(1298.24,1131.90)" font-size="16.5" text-anchor="middle" fill="#960c2e">0</text>
<text transform="translate(1298.24,1162.80)" font-size="16.5" text-anchor="middle" fill="#112d68">0</text>
<line x1="796.00" y1="1342.50" x2="796.00" y2="1615.30" stroke="#000" stroke-width="2.3" />
<line x1="791.80" y1="1614.30" x2="796.00" y2="1614.30" stroke="#000" stroke-width="1.4" />
<text transform="translate(783.90,1622.10)" font-size="20.3" text-anchor="end" fill="#000">0</text>
<line x1="793.20" y1="1587.17" x2="796.00" y2="1587.17" stroke="#000" stroke-width="1.4" />
<line x1="791.80" y1="1560.04" x2="796.00" y2="1560.04" stroke="#000" stroke-width="1.4" />
<text transform="translate(783.90,1567.84)" font-size="20.3" text-anchor="end" fill="#000">20</text>
<line x1="793.20" y1="1532.91" x2="796.00" y2="1532.91" stroke="#000" stroke-width="1.4" />
<line x1="791.80" y1="1505.78" x2="796.00" y2="1505.78" stroke="#000" stroke-width="1.4" />
<text transform="translate(783.90,1513.58)" font-size="20.3" text-anchor="end" fill="#000">40</text>
<line x1="793.20" y1="1478.65" x2="796.00" y2="1478.65" stroke="#000" stroke-width="1.4" />
<line x1="791.80" y1="1451.52" x2="796.00" y2="1451.52" stroke="#000" stroke-width="1.4" />
<text transform="translate(783.90,1459.32)" font-size="20.3" text-anchor="end" fill="#000">60</text>
<line x1="793.20" y1="1424.39" x2="796.00" y2="1424.39" stroke="#000" stroke-width="1.4" />
<line x1="791.80" y1="1397.26" x2="796.00" y2="1397.26" stroke="#000" stroke-width="1.4" />
<text transform="translate(783.90,1405.06)" font-size="20.3" text-anchor="end" fill="#000">80</text>
<line x1="793.20" y1="1370.13" x2="796.00" y2="1370.13" stroke="#000" stroke-width="1.4" />
<line x1="791.80" y1="1343.00" x2="796.00" y2="1343.00" stroke="#000" stroke-width="1.4" />
<text transform="translate(783.90,1350.80)" font-size="20.3" text-anchor="end" fill="#000">100</text>
<line x1="792.00" y1="1614.30" x2="1320.40" y2="1614.30" stroke="#000" stroke-width="2.3" />
<line x1="820.60" y1="1614.30" x2="820.60" y2="1617.80" stroke="#000" stroke-width="1.4" />
<text transform="translate(820.90,1641.50)" font-size="20.5" text-anchor="middle" fill="#000">0</text>
<line x1="850.60" y1="1614.30" x2="850.60" y2="1617.80" stroke="#000" stroke-width="1.4" />
<line x1="880.60" y1="1614.30" x2="880.60" y2="1617.80" stroke="#000" stroke-width="1.4" />
<text transform="translate(880.90,1641.50)" font-size="20.5" text-anchor="middle" fill="#000">12</text>
<line x1="910.60" y1="1614.30" x2="910.60" y2="1617.80" stroke="#000" stroke-width="1.4" />
<line x1="940.60" y1="1614.30" x2="940.60" y2="1617.80" stroke="#000" stroke-width="1.4" />
<text transform="translate(940.90,1641.50)" font-size="20.5" text-anchor="middle" fill="#000">24</text>
<line x1="970.60" y1="1614.30" x2="970.60" y2="1617.80" stroke="#000" stroke-width="1.4" />
<line x1="1000.60" y1="1614.30" x2="1000.60" y2="1617.80" stroke="#000" stroke-width="1.4" />
<text transform="translate(1000.90,1641.50)" font-size="20.5" text-anchor="middle" fill="#000">36</text>
<line x1="1030.60" y1="1614.30" x2="1030.60" y2="1617.80" stroke="#000" stroke-width="1.4" />
<line x1="1060.60" y1="1614.30" x2="1060.60" y2="1617.80" stroke="#000" stroke-width="1.4" />
<text transform="translate(1060.90,1641.50)" font-size="20.5" text-anchor="middle" fill="#000">48</text>
<line x1="1090.60" y1="1614.30" x2="1090.60" y2="1617.80" stroke="#000" stroke-width="1.4" />
<line x1="1120.60" y1="1614.30" x2="1120.60" y2="1617.80" stroke="#000" stroke-width="1.4" />
<text transform="translate(1120.90,1641.50)" font-size="20.5" text-anchor="middle" fill="#000">60</text>
<line x1="1150.60" y1="1614.30" x2="1150.60" y2="1617.80" stroke="#000" stroke-width="1.4" />
<line x1="1180.60" y1="1614.30" x2="1180.60" y2="1617.80" stroke="#000" stroke-width="1.4" />
<text transform="translate(1180.90,1641.50)" font-size="20.5" text-anchor="middle" fill="#000">72</text>
<line x1="1210.60" y1="1614.30" x2="1210.60" y2="1617.80" stroke="#000" stroke-width="1.4" />
<line x1="1240.60" y1="1614.30" x2="1240.60" y2="1617.80" stroke="#000" stroke-width="1.4" />
<text transform="translate(1240.90,1641.50)" font-size="20.5" text-anchor="middle" fill="#000">84</text>
<line x1="1270.60" y1="1614.30" x2="1270.60" y2="1617.80" stroke="#000" stroke-width="1.4" />
<line x1="1300.60" y1="1614.30" x2="1300.60" y2="1617.80" stroke="#000" stroke-width="1.4" />
<text transform="translate(1300.90,1641.50)" font-size="20.5" text-anchor="middle" fill="#000">96</text>
<text transform="translate(1057.50,1678.20)" font-size="20" font-weight="bold" text-anchor="middle" fill="#000">Time (months)</text>
<text transform="translate(729.80,1478.65) rotate(-90)" font-size="20" font-weight="bold" text-anchor="middle" fill="#000">Overall Survival (%)</text>
<text transform="translate(765.80,1696.00)" font-size="17.7" text-anchor="start" fill="#000">Number at risk</text>
<rect x="742.60" y="1722.50" width="15.40" height="5.20" fill="#960c2e"/>
<rect x="742.60" y="1753.90" width="15.40" height="5.20" fill="#112d68"/>
<text transform="translate(817.00,1731.30)" font-size="16.5" text-anchor="middle" fill="#960c2e">94</text>
<text transform="translate(817.00,1762.50)" font-size="16.5" text-anchor="middle" fill="#112d68">58</text>
<text transform="translate(877.60,1731.30)" font-size="16.5" text-anchor="middle" fill="#960c2e">47</text>
<text transform="translate(877.60,1762.50)" font-size="16.5" text-anchor="middle" fill="#112d68">38</text>
<text transform="translate(938.20,1731.30)" font-size="16.5" text-anchor="middle" fill="#960c2e">10</text>
<text transform="translate(938.20,1762.50)" font-size="16.5" text-anchor="middle" fill="#112d68">12</text>
<text transform="translate(998.80,1731.30)" font-size="16.5" text-anchor="middle" fill="#960c2e">4</text>
<text transform="translate(998.80,1762.50)" font-size="16.5" text-anchor="middle" fill="#112d68">6</text>
<text transform="translate(1059.40,1731.30)" font-size="16.5" text-anchor="middle" fill="#960c2e">1</text>
<text transform="translate(1059.40,1762.50)" font-size="16.5" text-anchor="middle" fill="#112d68">2</text>
<text transform="translate(1120.00,1731.30)" font-size="16.5" text-anchor="middle" fill="#960c2e">1</text>
<text transform="translate(1120.00,1762.50)" font-size="16.5" text-anchor="middle" fill="#112d68">2</text>
<text transform="translate(1180.60,1731.30)" font-size="16.5" text-anchor="middle" fill="#960c2e">1</text>
<text transform="translate(1180.60,1762.50)" font-size="16.5" text-anchor="middle" fill="#112d68">2</text>
<text transform="translate(1241.20,1731.30)" font-size="16.5" text-anchor="middle" fill="#960c2e">1</text>
<text transform="translate(1241.20,1762.50)" font-size="16.5" text-anchor="middle" fill="#112d68">1</text>
<text transform="translate(1301.80,1731.30)" font-size="16.5" text-anchor="middle" fill="#960c2e">1</text>
<text transform="translate(1301.80,1762.50)" font-size="16.5" text-anchor="middle" fill="#112d68">0</text>
<polyline points="851.7,143.1 853.3,150.6 858.9,159.4 863.3,169.4 865.6,175.0 870.6,178.3 874.4,186.1 877.8,189.4 885.6,206.1 890.0,212.8 894.4,213.9 900.0,223.9 903.3,228.9 903.9,235.6 908.3,241.1 910.6,248.3 916.7,249.4 920.0,257.8 923.3,261.7 927.8,263.3 928.9,267.2 934.4,268.9 938.3,273.3 940.0,282.8 942.8,286.1 947.8,292.8 951.1,295.6 955.6,295.6 961.1,298.9 967.8,308.9 968.3,310.6 976.7,310.6 982.2,315.6 985.0,316.7 991.1,328.3 996.1,328.9 1000.6,335.6 1007.2,335.6 1009.4,339.4 1015.6,341.1 1019.4,343.9 1031.1,343.9 1036.7,347.8 1040.0,355.0 1045.6,355.0 1045.6,360.6 1064.4,360.6 1064.4,365.6 1072.2,365.6 1074.4,370.6 1079.4,370.6 1081.1,373.9 1094.4,373.9 1094.4,377.6 1138.1,377.6 1138.1,381.9 1141.5,381.9 1141.5,386.3 1148.4,386.3 1148.4,391.0 1205.9,391.0 1205.9,396.7 1265.2,396.7 1265.2,401.9 1316.3,401.9" fill="none" stroke="#960c2e" stroke-width="2.5" stroke-linejoin="miter" stroke-linecap="butt"/>
<polyline points="820.0,143.1 853.9,143.1 857.8,150.6 862.2,153.3 872.2,157.8 874.4,162.2 879.4,165.0 882.2,171.1 886.7,172.2 892.2,176.1 895.0,181.7 905.6,181.7 910.0,187.8 918.9,188.3 921.1,190.6 930.6,190.6 933.3,196.4 940.0,196.4 943.3,199.4 947.2,200.6 950.0,203.9 961.1,203.9 961.7,206.1 978.9,206.1 979.4,208.7 993.9,208.7 994.4,211.4 1037.2,211.4 1038.9,213.9 1045.6,214.4 1046.7,217.8 1050.6,218.3 1051.1,221.5 1095.7,221.5 1095.7,225.4 1126.5,225.4 1126.9,230.0 1226.5,230.0 1226.7,239.8 1316.1,239.8" fill="none" stroke="#112d68" stroke-width="2.5" stroke-linejoin="miter" stroke-linecap="butt"/>
<line x1="863.10" y1="150.91" x2="863.10" y2="156.51" stroke="#112d68" stroke-width="1.2" />
<line x1="872.00" y1="154.91" x2="872.00" y2="160.51" stroke="#112d68" stroke-width="1.2" />
<line x1="885.30" y1="169.06" x2="885.30" y2="174.66" stroke="#112d68" stroke-width="1.2" />
<line x1="890.70" y1="172.24" x2="890.70" y2="177.84" stroke="#112d68" stroke-width="1.2" />
<line x1="901.30" y1="178.90" x2="901.30" y2="184.50" stroke="#112d68" stroke-width="1.2" />
<line x1="904.00" y1="178.90" x2="904.00" y2="184.50" stroke="#112d68" stroke-width="1.2" />
<line x1="907.60" y1="181.67" x2="907.60" y2="187.27" stroke="#112d68" stroke-width="1.2" />
<line x1="918.20" y1="185.46" x2="918.20" y2="191.06" stroke="#112d68" stroke-width="1.2" />
<line x1="925.30" y1="187.80" x2="925.30" y2="193.40" stroke="#112d68" stroke-width="1.2" />
<line x1="929.80" y1="187.80" x2="929.80" y2="193.40" stroke="#112d68" stroke-width="1.2" />
<line x1="939.60" y1="193.60" x2="939.60" y2="199.20" stroke="#112d68" stroke-width="1.2" />
<line x1="943.10" y1="196.42" x2="943.10" y2="202.02" stroke="#112d68" stroke-width="1.2" />
<line x1="960.90" y1="201.10" x2="960.90" y2="206.70" stroke="#112d68" stroke-width="1.2" />
<line x1="969.80" y1="203.30" x2="969.80" y2="208.90" stroke="#112d68" stroke-width="1.2" />
<line x1="975.10" y1="203.30" x2="975.10" y2="208.90" stroke="#112d68" stroke-width="1.2" />
<line x1="980.40" y1="205.90" x2="980.40" y2="211.50" stroke="#112d68" stroke-width="1.2" />
<line x1="984.90" y1="205.90" x2="984.90" y2="211.50" stroke="#112d68" stroke-width="1.2" />
<line x1="987.60" y1="205.90" x2="987.60" y2="211.50" stroke="#112d68" stroke-width="1.2" />
<line x1="991.10" y1="205.90" x2="991.10" y2="211.50" stroke="#112d68" stroke-width="1.2" />
<line x1="998.20" y1="208.60" x2="998.20" y2="214.20" stroke="#112d68" stroke-width="1.2" />
<line x1="1002.70" y1="208.60" x2="1002.70" y2="214.20" stroke="#112d68" stroke-width="1.2" />
<line x1="1008.90" y1="208.60" x2="1008.90" y2="214.20" stroke="#112d68" stroke-width="1.2" />
<line x1="1015.10" y1="208.60" x2="1015.10" y2="214.20" stroke="#112d68" stroke-width="1.2" />
<line x1="1019.60" y1="208.60" x2="1019.60" y2="214.20" stroke="#112d68" stroke-width="1.2" />
<line x1="1024.90" y1="208.60" x2="1024.90" y2="214.20" stroke="#112d68" stroke-width="1.2" />
<line x1="1028.40" y1="208.60" x2="1028.40" y2="214.20" stroke="#112d68" stroke-width="1.2" />
<line x1="1032.00" y1="208.60" x2="1032.00" y2="214.20" stroke="#112d68" stroke-width="1.2" />
<line x1="1035.60" y1="208.60" x2="1035.60" y2="214.20" stroke="#112d68" stroke-width="1.2" />
<line x1="1042.70" y1="211.38" x2="1042.70" y2="216.98" stroke="#112d68" stroke-width="1.2" />
<line x1="1059.60" y1="218.70" x2="1059.60" y2="224.30" stroke="#112d68" stroke-width="1.2" />
<line x1="1076.40" y1="218.70" x2="1076.40" y2="224.30" stroke="#112d68" stroke-width="1.2" />
<line x1="1079.10" y1="218.70" x2="1079.10" y2="224.30" stroke="#112d68" stroke-width="1.2" />
<line x1="1113.30" y1="222.60" x2="1113.30" y2="228.20" stroke="#112d68" stroke-width="1.2" />
<line x1="1118.00" y1="222.60" x2="1118.00" y2="228.20" stroke="#112d68" stroke-width="1.2" />
<line x1="1135.60" y1="227.20" x2="1135.60" y2="232.80" stroke="#112d68" stroke-width="1.2" />
<line x1="1142.00" y1="227.20" x2="1142.00" y2="232.80" stroke="#112d68" stroke-width="1.2" />
<line x1="1145.70" y1="227.20" x2="1145.70" y2="232.80" stroke="#112d68" stroke-width="1.2" />
<line x1="1149.40" y1="227.20" x2="1149.40" y2="232.80" stroke="#112d68" stroke-width="1.2" />
<line x1="1153.00" y1="227.20" x2="1153.00" y2="232.80" stroke="#112d68" stroke-width="1.2" />
<line x1="1168.90" y1="227.20" x2="1168.90" y2="232.80" stroke="#112d68" stroke-width="1.2" />
<line x1="1185.60" y1="227.20" x2="1185.60" y2="232.80" stroke="#112d68" stroke-width="1.2" />
<line x1="1194.80" y1="227.20" x2="1194.80" y2="232.80" stroke="#112d68" stroke-width="1.2" />
<line x1="1198.50" y1="227.20" x2="1198.50" y2="232.80" stroke="#112d68" stroke-width="1.2" />
<line x1="1201.30" y1="227.20" x2="1201.30" y2="232.80" stroke="#112d68" stroke-width="1.2" />
<line x1="1206.90" y1="227.20" x2="1206.90" y2="232.80" stroke="#112d68" stroke-width="1.2" />
<line x1="1211.50" y1="227.20" x2="1211.50" y2="232.80" stroke="#112d68" stroke-width="1.2" />
<line x1="1213.30" y1="227.20" x2="1213.30" y2="232.80" stroke="#112d68" stroke-width="1.2" />
<line x1="1219.80" y1="227.20" x2="1219.80" y2="232.80" stroke="#112d68" stroke-width="1.2" />
<line x1="1231.00" y1="237.00" x2="1231.00" y2="242.60" stroke="#112d68" stroke-width="1.2" />
<line x1="1244.80" y1="237.00" x2="1244.80" y2="242.60" stroke="#112d68" stroke-width="1.2" />
<line x1="1250.40" y1="237.00" x2="1250.40" y2="242.60" stroke="#112d68" stroke-width="1.2" />
<line x1="1257.80" y1="237.00" x2="1257.80" y2="242.60" stroke="#112d68" stroke-width="1.2" />
<line x1="1262.40" y1="237.00" x2="1262.40" y2="242.60" stroke="#112d68" stroke-width="1.2" />
<line x1="1273.50" y1="237.00" x2="1273.50" y2="242.60" stroke="#112d68" stroke-width="1.2" />
<line x1="1295.70" y1="237.00" x2="1295.70" y2="242.60" stroke="#112d68" stroke-width="1.2" />
<line x1="1307.80" y1="237.00" x2="1307.80" y2="242.60" stroke="#112d68" stroke-width="1.2" />
<line x1="952.50" y1="292.80" x2="952.50" y2="298.40" stroke="#960c2e" stroke-width="1.2" />
<line x1="959.80" y1="295.32" x2="959.80" y2="300.92" stroke="#960c2e" stroke-width="1.2" />
<line x1="976.90" y1="307.98" x2="976.90" y2="313.58" stroke="#960c2e" stroke-width="1.2" />
<line x1="1011.90" y1="337.29" x2="1011.90" y2="342.89" stroke="#960c2e" stroke-width="1.2" />
<line x1="1077.00" y1="367.80" x2="1077.00" y2="373.40" stroke="#960c2e" stroke-width="1.2" />
<line x1="1087.60" y1="371.10" x2="1087.60" y2="376.70" stroke="#960c2e" stroke-width="1.2" />
<line x1="1090.90" y1="371.10" x2="1090.90" y2="376.70" stroke="#960c2e" stroke-width="1.2" />
<line x1="1181.90" y1="388.20" x2="1181.90" y2="393.80" stroke="#960c2e" stroke-width="1.2" />
<line x1="1022.50" y1="944.20" x2="1022.50" y2="949.80" stroke="#112d68" stroke-width="1.2" />
<line x1="1072.50" y1="944.20" x2="1072.50" y2="949.80" stroke="#112d68" stroke-width="1.2" />
<line x1="1191.00" y1="944.20" x2="1191.00" y2="949.80" stroke="#112d68" stroke-width="1.2" />
<line x1="1201.30" y1="944.20" x2="1201.30" y2="949.80" stroke="#112d68" stroke-width="1.2" />
<line x1="1010.50" y1="970.50" x2="1010.50" y2="976.10" stroke="#960c2e" stroke-width="1.2" />
<line x1="1053.20" y1="991.70" x2="1053.20" y2="997.30" stroke="#960c2e" stroke-width="1.2" />
<line x1="958.90" y1="1560.90" x2="958.90" y2="1566.50" stroke="#112d68" stroke-width="1.2" />
<line x1="1000.40" y1="1572.00" x2="1000.40" y2="1577.60" stroke="#112d68" stroke-width="1.2" />
<line x1="1181.60" y1="1598.40" x2="1181.60" y2="1604.00" stroke="#112d68" stroke-width="1.2" />
<line x1="1285.40" y1="1598.40" x2="1285.40" y2="1604.00" stroke="#112d68" stroke-width="1.2" />
<line x1="1307.40" y1="1608.40" x2="1307.40" y2="1614.00" stroke="#960c2e" stroke-width="1.2" />
<polyline points="850.6,745.8 851.1,750.0 854.2,750.0 854.2,755.6 862.4,755.6 863.3,760.6 865.0,761.7 866.1,777.2 867.8,791.7 870.0,797.2 876.7,797.2 878.9,802.2 881.1,819.4 882.2,829.4 883.3,837.2 886.7,846.1 887.8,856.1 890.4,862.2 891.9,870.4 894.8,871.1 896.3,882.2 898.5,882.2 901.5,908.9 903.7,911.1 908.9,931.1 914.1,932.6 916.3,943.7 923.7,943.7 924.4,949.6 928.1,949.6 928.1,955.6 937.8,955.6 937.8,961.5 957.8,961.5 957.8,967.4 978.5,967.4 978.5,973.3 1015.6,973.3 1015.6,980.0 1022.2,980.0 1022.2,987.4 1028.9,987.4 1028.9,994.5 1057.8,994.5 1057.8,1004.8 1094.2,1004.8 1094.2,1015.0" fill="none" stroke="#960c2e" stroke-width="2.5" stroke-linejoin="miter" stroke-linecap="butt"/>
<polyline points="820.0,745.8 849.1,745.8 849.1,761.3 853.9,761.3 853.9,776.9 866.1,776.9 866.1,792.8 872.0,792.8 872.0,810.0 875.6,810.0 875.6,827.0 886.4,827.0 886.4,844.4 890.0,844.4 890.0,861.4 902.5,861.4 902.5,878.5 904.4,878.5 904.4,895.6 907.4,895.6 907.4,912.6 912.9,912.6 912.9,929.9 951.9,929.9 951.9,947.0 1201.5,947.0" fill="none" stroke="#112d68" stroke-width="2.5" stroke-linejoin="miter" stroke-linecap="butt"/>
<polyline points="852.2,1343.9 855.0,1345.6 855.6,1354.4 858.9,1362.2 861.1,1374.4 862.8,1386.7 864.4,1403.9 866.7,1414.4 868.9,1418.9 870.0,1427.8 873.3,1433.3 877.2,1451.1 878.1,1460.0 879.6,1473.3 883.3,1479.3 889.3,1497.0 895.2,1508.9 897.4,1511.1 901.1,1511.9 904.1,1517.0 909.3,1517.8 913.0,1532.6 915.2,1533.3 917.4,1548.9 920.4,1560.7 930.7,1561.5 933.7,1567.4 938.9,1580.0 955.9,1580.0 958.9,1584.4 961.1,1591.1 967.8,1591.1 969.3,1594.1 975.2,1594.1 975.9,1597.0 995.9,1597.0 997.4,1600.7 1001.9,1601.5 1004.8,1606.7 1019.6,1607.4 1019.6,1611.2 1307.6,1611.2" fill="none" stroke="#960c2e" stroke-width="2.5" stroke-linejoin="miter" stroke-linecap="butt"/>
<polyline points="820.6,1343.0 856.7,1343.0 857.8,1346.7 859.4,1350.0 861.1,1356.7 862.2,1368.9 864.4,1375.6 865.6,1388.9 868.3,1390.0 869.4,1394.4 871.7,1395.6 873.3,1403.3 877.2,1403.9 879.4,1413.3 881.1,1427.8 882.2,1428.9 883.9,1446.7 886.7,1448.3 888.5,1463.0 891.5,1464.4 893.7,1483.0 898.1,1483.7 898.9,1488.1 904.1,1488.1 905.6,1498.5 909.3,1503.7 912.2,1518.5 918.9,1518.5 918.9,1528.9 925.6,1528.9 926.3,1533.3 932.2,1534.1 933.7,1539.3 935.9,1544.4 938.1,1544.4 940.4,1553.3 942.6,1558.5 955.2,1558.5 955.9,1563.7 969.3,1563.7 970.0,1569.6 994.4,1569.6 995.2,1574.8 1012.2,1574.8 1013.0,1581.5 1017.4,1582.2 1018.9,1588.9 1020.4,1594.8 1027.8,1594.8 1028.5,1601.2 1285.6,1601.2" fill="none" stroke="#112d68" stroke-width="2.5" stroke-linejoin="miter" stroke-linecap="butt"/>
</svg>
</body></html>
